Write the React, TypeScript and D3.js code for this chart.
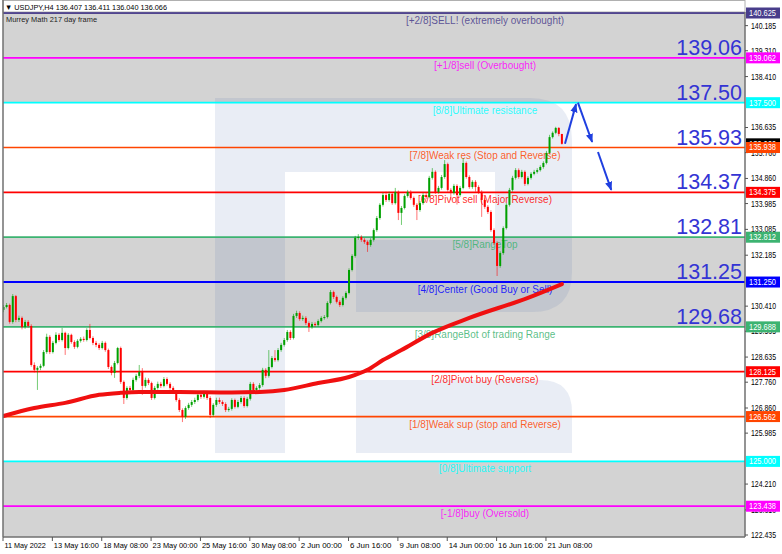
import * as d3 from "d3";

const W = 782;
const H = 554;

// Murrey Math levels
const levelPrices = [140.625, 139.062, 137.5, 135.938, 134.375, 132.812, 131.25, 129.688, 128.125, 126.562, 125.0, 123.438];
const levelNames = [
  "[+2/8]SELL! (extremely overbought)",
  "[+1/8]sell (Overbought)",
  "[8/8]Ultimate resistance",
  "[7/8]Weak res (Stop and Reverse)",
  "[6/8]Pivot sell (Major Reverse)",
  "[5/8]RangeTop",
  "[4/8]Center (Good Buy or Sell)",
  "[3/8]RangeBot of trading Range",
  "[2/8]Pivot buy (Reverse)",
  "[1/8]Weak sup (stop and Reverse)",
  "[0/8]Ultimate support",
  "[-1/8]buy (Oversold)",
];
const levelColors = ["#483d8b", "#ff00ff", "#00ffff", "#ff4500", "#ff0000", "#3cb371", "#0000ff", "#3cb371", "#ff0000", "#ff4500", "#00ffff", "#ff00ff"];

// shaded bands between levels
const bandLow = [137.5, 129.688, 121.875];
const bandHigh = [140.625, 132.812, 125.0];

// big level numbers at the right
const bigLevels = [139.062, 137.5, 135.938, 134.375, 132.812, 131.25, 129.688];
const bigTexts = ["139.06", "137.50", "135.93", "134.37", "132.81", "131.25", "129.68"];

// price scale ticks (the ones not hidden by level boxes)
const yTicks = [140.185, 139.31, 138.41, 136.635, 135.76, 134.86, 133.985, 133.085, 132.185, 130.41, 129.535, 128.635, 127.76, 126.86, 125.985, 124.21, 123.31, 122.435];

// time scale
const xLabels = ["11 May 2022", "13 May 16:00", "18 May 08:00", "23 May 00:00", "25 May 16:00", "30 May 08:00", "2 Jun 00:00", "6 Jun 16:00", "9 Jun 08:00", "14 Jun 00:00", "16 Jun 16:00", "21 Jun 08:00"];
const xLabelBars = [0, 16, 32, 48, 64, 80, 96, 112, 128, 144, 160, 176];

// USDJPY H4 candles
const firstOpen = 130.28;
const closes = [
  130.38, 130.45, 129.86, 130.76, 129.93, 130.0, 129.68, 129.86, 129.72, 128.36,
  128.19, 128.26, 128.33, 128.81, 129.34, 128.81, 129.13, 129.41, 129.23, 129.48,
  128.95, 129.41, 129.16, 128.99, 129.2, 129.27, 129.23, 129.58, 129.3, 129.13,
  129.06, 128.95, 129.13, 128.88, 128.29, 128.08, 128.43, 128.95, 127.77, 127.21,
  127.56, 127.49, 127.84, 127.98, 128.12, 127.63, 127.84, 127.73, 127.21, 127.56,
  127.7, 127.63, 127.87, 127.7, 127.56, 127.42, 127.14, 126.79, 126.55, 126.86,
  126.97, 127.07, 127.14, 127.32, 127.25, 127.39, 127.21, 126.62, 126.97, 127.14,
  127.07, 127.0, 126.79, 126.83, 127.14, 126.9, 127.07, 127.21, 126.93, 127.18,
  127.7, 127.49, 127.56, 127.66, 128.19, 127.98, 128.29, 128.6, 128.53, 128.88,
  129.06, 129.23, 129.51, 129.3, 130.07, 130.17, 129.96, 130.0, 129.82, 129.68,
  129.79, 129.75, 129.89, 130.0, 130.03, 130.52, 130.9, 130.73, 130.56, 130.45,
  130.7, 130.87, 131.67, 132.16, 132.79, 132.82, 132.72, 132.65, 132.54, 132.72,
  133.06, 133.48, 133.94, 134.28, 134.11, 134.32, 134.0, 134.39, 133.66, 133.83,
  134.25, 134.39, 134.18, 133.94, 133.76, 134.0, 134.28, 134.21, 134.88, 135.09,
  134.39, 134.53, 134.91, 135.36, 134.46, 134.35, 134.6, 134.28, 134.53, 135.4,
  134.91, 134.56, 134.74, 134.56, 134.39, 134.11, 133.87, 133.69, 133.06, 132.61,
  131.81, 132.26, 133.13, 133.94, 134.46, 134.88, 135.15, 134.91, 135.09, 134.67,
  134.88, 135.02, 135.09, 135.15, 135.26, 135.4, 135.75, 136.3, 136.45, 136.62,
  136.41, 136.066,
];
const highs = [
  130.45, 130.52, 130.5, 130.83, 130.8, 130.08, 130.05, 129.93, 129.92, 129.78,
  128.45, 128.32, 128.4, 128.88, 129.45, 129.4, 129.2, 129.5, 129.47, 129.65,
  129.52, 129.47, 129.45, 129.22, 129.26, 129.33, 129.35, 129.64, 129.79, 129.36,
  129.2, 129.12, 129.2, 129.18, 128.93, 128.34, 128.5, 128.99, 129.0, 127.82,
  127.62, 127.63, 127.92, 128.05, 128.36, 128.25, 127.92, 127.9, 127.78, 127.63,
  127.78, 127.77, 127.94, 127.93, 127.76, 127.62, 127.48, 127.2, 126.85, 126.92,
  127.04, 127.14, 127.22, 127.4, 127.42, 127.46, 127.45, 127.27, 127.03, 127.22,
  127.22, 127.13, 127.06, 126.9, 127.2, 127.19, 127.14, 127.28, 127.27, 127.25,
  127.77, 127.76, 127.62, 127.73, 128.26, 128.25, 128.88, 128.67, 128.88, 128.95,
  129.13, 129.3, 129.58, 129.57, 130.14, 130.25, 130.23, 130.08, 130.06, 129.88,
  129.86, 129.85, 129.95, 130.06, 130.1, 130.58, 130.97, 130.95, 130.78, 130.62,
  130.76, 130.93, 131.73, 132.22, 132.86, 132.92, 132.88, 132.78, 132.7, 132.78,
  133.12, 133.55, 134.0, 134.36, 134.4, 134.4, 134.38, 134.53, 134.44, 133.9,
  134.31, 134.46, 134.45, 134.23, 134.0, 134.07, 134.35, 134.36, 134.95, 135.22,
  135.14, 134.6, 134.98, 135.5, 135.41, 134.52, 134.67, 134.66, 134.6, 135.57,
  135.45, 134.97, 134.8, 134.8, 134.62, 134.45, 134.17, 133.93, 133.75, 133.12,
  132.67, 132.32, 133.19, 134.0, 134.53, 134.95, 135.22, 135.21, 135.16, 135.14,
  134.94, 135.08, 135.16, 135.22, 135.32, 135.46, 135.82, 136.38, 136.5, 136.66,
  136.65, 136.411,
];
const lows = [
  130.2, 130.33, 129.8, 129.8, 129.85, 129.86, 129.6, 129.62, 129.66, 128.3,
  128.1, 127.49, 128.18, 128.28, 128.75, 128.74, 128.76, 129.08, 129.17, 129.18,
  128.71, 128.9, 129.1, 128.92, 128.94, 129.14, 129.17, 129.18, 129.25, 129.05,
  128.98, 128.88, 128.9, 128.82, 128.22, 128.0, 127.91, 128.38, 127.7, 127.0,
  127.15, 127.4, 127.44, 127.78, 127.9, 127.32, 127.57, 127.66, 127.14, 127.16,
  127.5, 127.56, 127.58, 127.64, 127.5, 127.35, 127.08, 126.72, 126.37, 126.48,
  126.8, 126.9, 127.0, 127.08, 127.18, 127.19, 127.14, 126.51, 126.56, 126.9,
  127.0, 126.93, 126.72, 126.73, 126.77, 126.84, 126.85, 127.01, 126.87, 126.88,
  127.12, 127.43, 127.43, 127.5, 127.6, 127.9, 127.92, 128.24, 128.47, 128.48,
  128.82, 129.0, 129.17, 129.23, 129.25, 130.0, 129.9, 129.9, 129.75, 129.51,
  129.62, 129.68, 129.7, 129.84, 129.94, 129.98, 130.47, 130.66, 130.5, 130.38,
  130.4, 130.64, 130.82, 131.62, 132.1, 132.72, 132.65, 132.58, 132.3, 132.48,
  132.66, 133.0, 133.42, 133.88, 134.04, 134.05, 133.94, 133.95, 133.41, 133.24,
  133.78, 134.19, 134.12, 133.87, 133.41, 133.7, 133.94, 134.14, 134.16, 134.82,
  134.32, 134.33, 134.47, 134.85, 134.4, 134.1, 134.29, 133.95, 134.22, 134.48,
  134.85, 134.5, 134.5, 134.4, 134.32, 133.52, 133.8, 133.62, 133.0, 132.54,
  131.46, 131.75, 132.2, 133.08, 133.88, 134.4, 134.82, 134.85, 134.86, 134.6,
  134.62, 134.82, 134.97, 135.03, 135.1, 135.2, 135.35, 135.7, 136.25, 136.4,
  136.33, 136.04,
];

// moving average (sampled along the bars)
const maBars = [0, 10, 20, 31, 38, 44, 57, 74, 83, 91, 102, 112, 118, 123, 129, 139, 151, 170, 181];
const maValues = [126.58, 126.86, 127.04, 127.32, 127.39, 127.42, 127.42, 127.4, 127.42, 127.49, 127.73, 127.94, 128.19, 128.53, 128.88, 129.48, 130.0, 130.7, 131.18];

// forecast arrows: [bar, price] from -> to
const arrowFrom: [number, number][] = [[182, 136.07], [186.2, 137.5], [192.7, 135.78]];
const arrowTo: [number, number][] = [[185.6, 137.45], [190.8, 136.13], [197, 134.46]];

const lastPrice = 136.066;

const FONT = "'Liberation Sans', Arial, sans-serif";

export default function App() {
  const x = d3.scaleLinear().domain([0, 181]).range([3.5, 3.5 + 181 * 3.085]);
  const y = d3.scaleLinear().domain([122.435, 140.625]).range([535, 13]);
  const left = 3;
  const right = 745;
  const bottom = 537;

  const opens = closes.map((_, i) => (i === 0 ? firstOpen : closes[i - 1]));

  const maPath = d3
    .line<number>()
    .x((_, i) => x(maBars[i]))
    .y((d) => y(d))
    .curve(d3.curveMonotoneX)(maValues);

  const blue = "#1f3fe0";
  const bigBlue = "#3434d4";

  return (
    <div style={{ position: "absolute", left: 0, top: 0, width: W, height: H, background: "#fff" }}>
      <svg width={W} height={H} style={{ display: "block" }} fontFamily={FONT}>
        <defs>
          <marker id="ah" viewBox="0 0 10 8" refX="9" refY="4" markerWidth="9" markerHeight="8" markerUnits="userSpaceOnUse" orient="auto">
            <path d="M0,0 L10,4 L0,8 Z" fill={blue} />
          </marker>
          <clipPath id="plot">
            <rect x={left} y={0} width={right - left} height={bottom} />
          </clipPath>
        </defs>
        <rect width={W} height={H} fill="#fff" />

        <g clipPath="url(#plot)">
          {/* grey bands */}
          {bandLow.map((lo, i) => (
            <rect key={"b" + i} x={left} width={right - left} y={y(bandHigh[i])} height={y(lo) - y(bandHigh[i])} fill="#d3d3d3" />
          ))}

          {/* watermark logo */}
          <path
            d="M215,98 H530 Q572,98 572,140 V272 Q572,312 532,312 H356 V240 H495 V172 H285 V453 H215 Z M356,380 H540 Q572,380 572,412 V453 H356 Z"
            fill="rgb(70,110,170)"
            fillOpacity={0.12}
          />

          {/* level lines */}
          {levelPrices.map((p, i) => (
            <line key={"l" + i} x1={left} x2={right} y1={y(p)} y2={y(p)} stroke={levelColors[i]} strokeWidth={p === 131.25 ? 2 : 1.7} />
          ))}

          {/* level names */}
          {levelPrices.map((p, i) => (
            <text key={"n" + i} x={485} y={y(p) + 11} textAnchor="middle" fontSize={10} fill={levelColors[i]} fillOpacity={0.85}>
              {levelNames[i]}
            </text>
          ))}

          {/* big numbers */}
          {bigLevels.map((p, i) => (
            <text key={"g" + i} x={742} y={y(p) - 3} textAnchor="end" fontSize={21.5} fill={bigBlue}>
              {bigTexts[i]}
            </text>
          ))}

          {/* candles */}
          {closes.map((c, i) => {
            const o = opens[i];
            const up = c >= o;
            const col = up ? "#00a000" : "#ff0000";
            const cx = x(i);
            const top = y(Math.max(o, c));
            const bh = Math.max(1, y(Math.min(o, c)) - top);
            return (
              <g key={"c" + i}>
                <line x1={cx} x2={cx} y1={y(highs[i])} y2={y(lows[i])} stroke={col} strokeOpacity={0.55} strokeWidth={1} />
                <rect x={cx - 1} y={top} width={2} height={bh} fill={col} />
              </g>
            );
          })}

          {/* moving average */}
          <path d={maPath ?? ""} fill="none" stroke="#f01010" strokeWidth={4} strokeLinecap="round" />

          {/* arrows */}
          {arrowFrom.map((f, i) => (
            <line
              key={"a" + i}
              x1={x(f[0])}
              y1={y(f[1])}
              x2={x(arrowTo[i][0])}
              y2={y(arrowTo[i][1])}
              stroke={blue}
              strokeWidth={2}
              markerEnd="url(#ah)"
            />
          ))}
        </g>

        {/* header */}
        <rect x={left} y={0.5} width={right - left} height={11.5} fill="#fff" stroke="#b0b0b0" strokeWidth={1} />
        <line x1={left} x2={right} y1={y(140.625)} y2={y(140.625)} stroke="#483d8b" strokeWidth={1.7} />
        <text x={5} y={10} fontSize={8} textLength={162} lengthAdjust="spacingAndGlyphs" fill="#000">
          ▼ USDJPY,H4  136.407 136.411 136.040 136.066
        </text>
        <text x={6} y={22} fontSize={8} textLength={91} lengthAdjust="spacingAndGlyphs" fill="#222">
          Murrey Math 217 day frame
        </text>

        {/* frame */}
        <line x1={left} x2={left} y1={0} y2={bottom} stroke="#707070" strokeWidth={1.5} />
        <line x1={right} x2={right} y1={12} y2={bottom} stroke="#707070" strokeWidth={1.5} />
        <line x1={left} x2={right} y1={bottom} y2={bottom} stroke="#707070" strokeWidth={1.5} />

        {/* price axis */}
        {yTicks.map((t, i) => (
          <g key={"yt" + i}>
            <line x1={right} x2={right + 3} y1={y(t)} y2={y(t)} stroke="#555" />
            <text x={751} y={y(t)} dy="0.35em" fontSize={8.5} textLength={25} lengthAdjust="spacingAndGlyphs" fill="#000">
              {t.toFixed(3)}
            </text>
          </g>
        ))}

        {/* current price */}
        <rect x={746} y={y(lastPrice) - 5.5} width={34} height={11} fill="#000" />
        <text x={749} y={y(lastPrice)} dy="0.35em" fontSize={8.5} textLength={27} lengthAdjust="spacingAndGlyphs" fill="#fff">
          {lastPrice.toFixed(3)}
        </text>

        {/* level price boxes */}
        {levelPrices.map((p, i) => (
          <g key={"lb" + i}>
            <rect x={746} y={y(p) - 5.5} width={34} height={11} fill={levelColors[i]} />
            <text x={749} y={y(p)} dy="0.35em" fontSize={8.5} textLength={27} lengthAdjust="spacingAndGlyphs" fill="#fff">
              {p.toFixed(3)}
            </text>
          </g>
        ))}

        {/* time axis */}
        {xLabelBars.map((b, i) => (
          <g key={"xt" + i}>
            <line x1={x(b) - 0.5} x2={x(b) - 0.5} y1={bottom} y2={bottom + 4} stroke="#555" />
            <text x={x(b) + 1} y={548} fontSize={8} textLength={xLabels[i].length * 3.75} lengthAdjust="spacingAndGlyphs" fill="#000">
              {xLabels[i]}
            </text>
          </g>
        ))}
      </svg>
    </div>
  );
}
